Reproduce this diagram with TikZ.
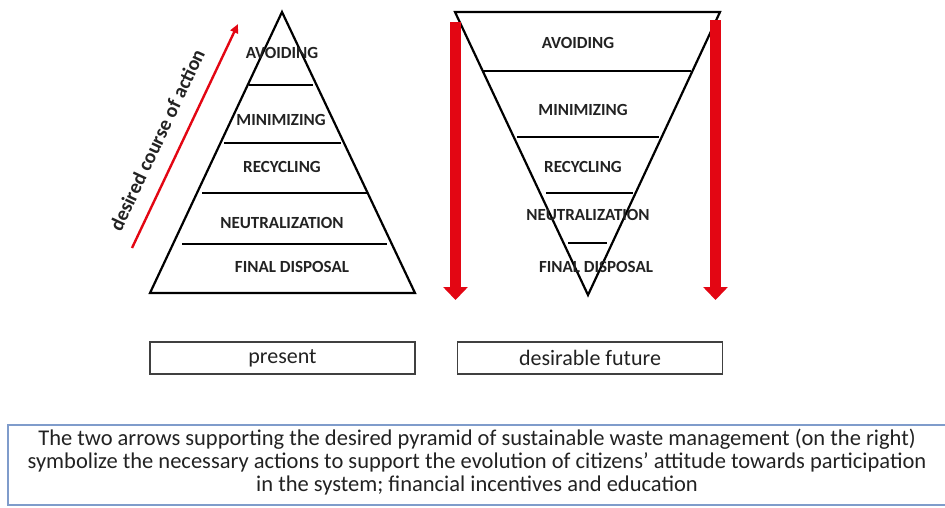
\documentclass[tikz,border=0pt]{standalone}
\usepackage{fontspec}
\setmainfont{Carlito}
\usetikzlibrary{arrows.meta}
\definecolor{arrowred}{HTML}{E30613}
\definecolor{boxblue}{HTML}{7F9CCB}
\definecolor{txt}{HTML}{222222}
\tikzset{
  pyr/.style={draw=black, line width=2.2pt, line join=miter},
  layer/.style={draw=black, line width=2.6pt},
  lbl/.style={font=\fontsize{17}{19}\selectfont\bfseries, text=txt, inner sep=0pt},
  capbox/.style={draw=black!75, line width=1.3pt, minimum width=265pt, minimum height=32pt, inner sep=0pt,
    font=\fontsize{22}{24}\selectfont, text=txt},
  bigarrow/.style={draw=arrowred, line width=11pt, -{Triangle[width=24pt,length=13pt]}},
  thinarrow/.style={draw=arrowred, line width=2.4pt, -{Triangle[width=8pt,length=9pt]}},
  note/.style={font=\fontsize{22.5}{23}\selectfont, text=txt, align=center, inner sep=0pt}
}
\begin{document}
\begin{tikzpicture}[x=1pt,y=-1pt]
\useasboundingbox (0,0) rectangle (945,507);
% left pyramid
\coordinate (LA) at (282,12);
\coordinate (LL) at (150,293);
\coordinate (LR) at (415,293);
\draw[pyr] (LA) -- (LR) -- (LL) -- cycle;
\draw[layer] (249,85) -- (313,85);
\draw[layer] (224,143) -- (341,143);
\draw[layer] (202,193) -- (367,193);
\draw[layer] (182,244) -- (387,244);
\node[lbl] (la1) at (282,53) {AVOIDING};
\node[lbl] (la2) at (281,120) {MINIMIZING};
\node[lbl] (la3) at (282,167) {RECYCLING};
\node[lbl] (la4) at (282,223) {NEUTRALIZATION};
\node[lbl] (la5) at (292,267) {FINAL DISPOSAL};
% thin arrow
\coordinate (ts) at (132,248);
\coordinate (te) at (238,24);
\draw[thinarrow] (ts) -- (te);
\node[font=\fontsize{20}{22}\selectfont\bfseries, text=txt, rotate=64.8, inner sep=0pt] (dca) at (157,140) {desired course of action};
% right inverted pyramid
\coordinate (RL) at (455,12);
\coordinate (RR) at (720,12);
\coordinate (RA) at (588,295);
\draw[pyr] (RL) -- (RR) -- (RA) -- cycle;
\draw[layer] (483,71) -- (691,71);
\draw[layer] (517,137) -- (659,137);
\draw[layer] (546,193) -- (633,193);
\draw[layer] (568,243) -- (607,243);
\node[lbl] (ra1) at (578,43) {AVOIDING};
\node[lbl] (ra2) at (583,110) {MINIMIZING};
\node[lbl] (ra3) at (583,167) {RECYCLING};
\node[lbl] (ra4) at (588,215) {NEUTRALIZATION};
\node[lbl] (ra5) at (596,267) {FINAL DISPOSAL};
% big arrows
\coordinate (b1s) at (455.5,22);
\coordinate (b1e) at (455.5,300);
\coordinate (b2s) at (715.5,20);
\coordinate (b2e) at (715.5,300);
\draw[bigarrow] (b1s) -- (b1e);
\draw[bigarrow] (b2s) -- (b2e);
% caption boxes
\node[capbox] (present) at (282.5,358) {present};
\node[capbox] (future) at (590,358) {desirable future};
% note box
\draw[draw=boxblue, line width=1.6pt] (8,425) rectangle (960,505);
\node[note] (notetxt) at (477,462) {The two arrows supporting the desired pyramid of sustainable waste management (on the right)\\symbolize the necessary actions to support the evolution of citizens' attitude towards participation\\in the system; financial incentives and education};
\end{tikzpicture}
\end{document}
